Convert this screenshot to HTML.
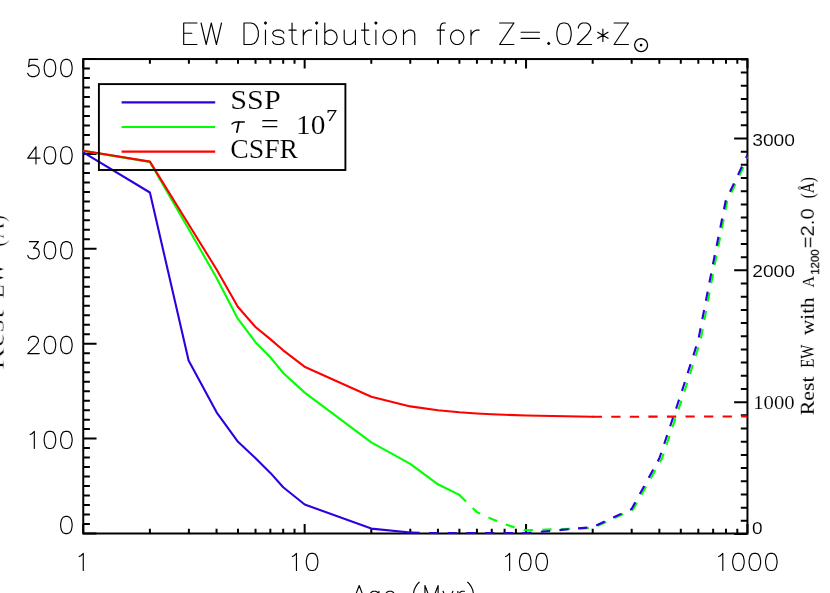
<!DOCTYPE html>
<html><head><meta charset="utf-8"><title>EW Distribution</title>
<style>
html,body{margin:0;padding:0;background:#fff;}
body{width:830px;height:593px;overflow:hidden;font-family:"Liberation Sans",sans-serif;}
svg{display:block;}
</style></head><body>
<svg width="830" height="593" viewBox="0 0 830 593" role="img" aria-label="EW Distribution for Z=.02*Z_sun; x axis Age (Myr) 1 10 100 1000; y axis Rest EW 0 100 200 300 400 500">
<title>EW Distribution for Z=.02*Z⊙</title>
<desc>Rest EW (Å) versus Age (Myr) for SSP, tau = 10^7 and CSFR models; right axis: Rest EW with A1200=2.0 (Å)</desc>
<defs><filter id="gs" x="-5%" y="-5%" width="110%" height="110%" color-interpolation-filters="sRGB"><feColorMatrix type="saturate" values="0"/></filter></defs>
<rect x="0" y="0" width="830" height="593" fill="#fff"/>
<path d="M83.25 533.50 h13.30 M83.25 524.01 h6.64 M83.25 514.52 h6.64 M83.25 505.03 h6.64 M83.25 495.54 h6.64 M83.25 486.06 h6.64 M83.25 476.57 h6.64 M83.25 467.08 h6.64 M83.25 457.59 h6.64 M83.25 448.10 h6.64 M83.25 438.61 h13.30 M83.25 429.12 h6.64 M83.25 419.63 h6.64 M83.25 410.14 h6.64 M83.25 400.65 h6.64 M83.25 391.16 h6.64 M83.25 381.68 h6.64 M83.25 372.19 h6.64 M83.25 362.70 h6.64 M83.25 353.21 h6.64 M83.25 343.72 h13.30 M83.25 334.23 h6.64 M83.25 324.74 h6.64 M83.25 315.25 h6.64 M83.25 305.76 h6.64 M83.25 296.27 h6.64 M83.25 286.79 h6.64 M83.25 277.30 h6.64 M83.25 267.81 h6.64 M83.25 258.32 h6.64 M83.25 248.83 h13.30 M83.25 239.34 h6.64 M83.25 229.85 h6.64 M83.25 220.36 h6.64 M83.25 210.87 h6.64 M83.25 201.38 h6.64 M83.25 191.90 h6.64 M83.25 182.41 h6.64 M83.25 172.92 h6.64 M83.25 163.43 h6.64 M83.25 153.94 h13.30 M83.25 144.45 h6.64 M83.25 134.96 h6.64 M83.25 125.47 h6.64 M83.25 115.98 h6.64 M83.25 106.50 h6.64 M83.25 97.01 h6.64 M83.25 87.52 h6.64 M83.25 78.03 h6.64 M83.25 68.54 h6.64 M83.25 59.05 h13.30 M747.45 534.00 h-13.30 M747.45 520.82 h-6.64 M747.45 507.63 h-6.64 M747.45 494.45 h-6.64 M747.45 481.27 h-6.64 M747.45 468.08 h-6.64 M747.45 454.90 h-6.64 M747.45 441.72 h-6.64 M747.45 428.53 h-6.64 M747.45 415.35 h-6.64 M747.45 402.17 h-13.30 M747.45 388.98 h-6.64 M747.45 375.80 h-6.64 M747.45 362.62 h-6.64 M747.45 349.43 h-6.64 M747.45 336.25 h-6.64 M747.45 323.07 h-6.64 M747.45 309.88 h-6.64 M747.45 296.70 h-6.64 M747.45 283.52 h-6.64 M747.45 270.33 h-13.30 M747.45 257.15 h-6.64 M747.45 243.97 h-6.64 M747.45 230.78 h-6.64 M747.45 217.60 h-6.64 M747.45 204.42 h-6.64 M747.45 191.23 h-6.64 M747.45 178.05 h-6.64 M747.45 164.87 h-6.64 M747.45 151.68 h-6.64 M747.45 138.50 h-13.30 M747.45 125.32 h-6.64 M747.45 112.13 h-6.64 M747.45 98.95 h-6.64 M747.45 85.77 h-6.64 M747.45 72.58 h-6.64 M747.45 59.40 h-6.64 M83.25 533.50 v-9.50 M83.25 59.05 v9.50 M149.90 533.50 v-4.75 M149.90 59.05 v4.75 M188.88 533.50 v-4.75 M188.88 59.05 v4.75 M216.55 533.50 v-4.75 M216.55 59.05 v4.75 M238.00 533.50 v-4.75 M238.00 59.05 v4.75 M255.53 533.50 v-4.75 M255.53 59.05 v4.75 M270.35 533.50 v-4.75 M270.35 59.05 v4.75 M283.19 533.50 v-4.75 M283.19 59.05 v4.75 M294.52 533.50 v-4.75 M294.52 59.05 v4.75 M304.65 533.50 v-9.50 M304.65 59.05 v9.50 M371.30 533.50 v-4.75 M371.30 59.05 v4.75 M410.28 533.50 v-4.75 M410.28 59.05 v4.75 M437.95 533.50 v-4.75 M437.95 59.05 v4.75 M459.40 533.50 v-4.75 M459.40 59.05 v4.75 M476.93 533.50 v-4.75 M476.93 59.05 v4.75 M491.75 533.50 v-4.75 M491.75 59.05 v4.75 M504.59 533.50 v-4.75 M504.59 59.05 v4.75 M515.92 533.50 v-4.75 M515.92 59.05 v4.75 M526.05 533.50 v-9.50 M526.05 59.05 v9.50 M592.70 533.50 v-4.75 M592.70 59.05 v4.75 M631.68 533.50 v-4.75 M631.68 59.05 v4.75 M659.35 533.50 v-4.75 M659.35 59.05 v4.75 M680.80 533.50 v-4.75 M680.80 59.05 v4.75 M698.33 533.50 v-4.75 M698.33 59.05 v4.75 M713.15 533.50 v-4.75 M713.15 59.05 v4.75 M725.99 533.50 v-4.75 M725.99 59.05 v4.75 M737.32 533.50 v-4.75 M737.32 59.05 v4.75 M747.45 533.50 v-9.50 M747.45 59.05 v9.50" fill="none" stroke="#000" stroke-width="2.0"/>
<rect x="83.25" y="59.05" width="664.20" height="474.45" fill="none" stroke="#000" stroke-width="2.0"/>
<clipPath id="pc"><rect x="82.65" y="58.45" width="665.10" height="475.85"/></clipPath>
<g fill="none" stroke-width="2.1" stroke-linejoin="round" stroke-linecap="butt" clip-path="url(#pc)">
<path d="M83.3 150.9 L149.9 161.9 L188.9 229.5 L216.6 278.0 L237.8 318.7 L255.5 342.2 L270.4 357.3 L283.2 373.0 L304.7 392.6 L371.3 442.3 L410.3 463.8 L437.9 484.3 L459.4 494.9 L460.1 495.6" stroke="#00ff00"/>
<path d="M459.4 494.9 L476.9 512.1 L491.7 519.0 L504.6 524.0 L515.9 527.8 L526.0 530.3 L593.1 528.0 L633.0 509.6 L661.8 458.8 L683.4 394.9 L700.6 340.3 L714.9 263.8 L727.2 201.4 L748.8 155.7" stroke="#00ff00" stroke-dasharray="9.33 9.33"/>
<path d="M83.3 152.3 L149.9 192.5 L188.6 360.4 L216.6 412.3 L238.0 441.8 L255.6 458.3 L270.4 472.9 L283.2 487.3 L304.7 504.5 L371.3 528.6 L410.3 532.5 L411.5 532.6" stroke="#2e00e0"/>
<path d="M410.3 532.6 L437.9 533.1 L526.0 533.1 L592.7 527.1 L631.6 509.0 L659.3 458.5 L680.8 394.6 L698.3 340.0 L713.1 263.5 L725.7 200.8 L747.4 155.0" stroke="#2e00e0" stroke-dasharray="9.33 9.33"/>
<path d="M83.3 150.7 L149.9 161.6 L188.9 224.7 L216.6 269.5 L237.8 306.8 L255.5 327.0 L270.3 339.1 L283.2 350.3 L304.5 366.7 L371.3 396.8 L410.3 406.4 L437.9 410.2 L459.4 412.3 L476.9 413.5 L491.7 414.3 L504.6 414.8 L526.0 415.5 L592.7 416.8 L594.0 416.8" stroke="#ff0000"/>
<path d="M592.7 416.8 L747.4 416.4" stroke="#ff0000" stroke-dasharray="9.28 9.28"/>
</g>
<path d="M37.61 59.42 L29.39 59.42 L28.57 66.79 L29.39 65.97 L31.86 65.15 L34.32 65.15 L36.79 65.97 L38.43 67.60 L39.25 70.06 L39.25 71.69 L38.43 74.15 L36.79 75.78 L34.32 76.60 L31.86 76.60 L29.39 75.78 L28.57 74.96 L27.75 73.33 M49.12 59.42 L46.65 60.24 L45.01 62.70 L44.19 66.79 L44.19 69.24 L45.01 73.33 L46.65 75.78 L49.12 76.60 L50.76 76.60 L53.23 75.78 L54.87 73.33 L55.69 69.24 L55.69 66.79 L54.87 62.70 L53.23 60.24 L50.76 59.42 L49.12 59.42 M65.56 59.42 L63.09 60.24 L61.45 62.70 L60.63 66.79 L60.63 69.24 L61.45 73.33 L63.09 75.78 L65.56 76.60 L67.20 76.60 L69.67 75.78 L71.31 73.33 L72.13 69.24 L72.13 66.79 L71.31 62.70 L69.67 60.24 L67.20 59.42 L65.56 59.42 M35.97 146.72 L27.75 158.17 L40.08 158.17 M35.97 146.72 L35.97 163.90 M49.12 146.72 L46.65 147.54 L45.01 150.00 L44.19 154.09 L44.19 156.54 L45.01 160.63 L46.65 163.08 L49.12 163.90 L50.76 163.90 L53.23 163.08 L54.87 160.63 L55.69 156.54 L55.69 154.09 L54.87 150.00 L53.23 147.54 L50.76 146.72 L49.12 146.72 M65.56 146.72 L63.09 147.54 L61.45 150.00 L60.63 154.09 L60.63 156.54 L61.45 160.63 L63.09 163.08 L65.56 163.90 L67.20 163.90 L69.67 163.08 L71.31 160.63 L72.13 156.54 L72.13 154.09 L71.31 150.00 L69.67 147.54 L67.20 146.72 L65.56 146.72 M29.39 241.62 L38.43 241.62 L33.50 248.17 L35.97 248.17 L37.61 248.99 L38.43 249.80 L39.25 252.26 L39.25 253.89 L38.43 256.35 L36.79 257.98 L34.32 258.80 L31.86 258.80 L29.39 257.98 L28.57 257.16 L27.75 255.53 M49.12 241.62 L46.65 242.44 L45.01 244.90 L44.19 248.99 L44.19 251.44 L45.01 255.53 L46.65 257.98 L49.12 258.80 L50.76 258.80 L53.23 257.98 L54.87 255.53 L55.69 251.44 L55.69 248.99 L54.87 244.90 L53.23 242.44 L50.76 241.62 L49.12 241.62 M65.56 241.62 L63.09 242.44 L61.45 244.90 L60.63 248.99 L60.63 251.44 L61.45 255.53 L63.09 257.98 L65.56 258.80 L67.20 258.80 L69.67 257.98 L71.31 255.53 L72.13 251.44 L72.13 248.99 L71.31 244.90 L69.67 242.44 L67.20 241.62 L65.56 241.62 M28.57 340.51 L28.57 339.70 L29.39 338.06 L30.21 337.24 L31.86 336.42 L35.14 336.42 L36.79 337.24 L37.61 338.06 L38.43 339.70 L38.43 341.33 L37.61 342.97 L35.97 345.42 L27.75 353.60 L39.25 353.60 M49.12 336.42 L46.65 337.24 L45.01 339.70 L44.19 343.79 L44.19 346.24 L45.01 350.33 L46.65 352.78 L49.12 353.60 L50.76 353.60 L53.23 352.78 L54.87 350.33 L55.69 346.24 L55.69 343.79 L54.87 339.70 L53.23 337.24 L50.76 336.42 L49.12 336.42 M65.56 336.42 L63.09 337.24 L61.45 339.70 L60.63 343.79 L60.63 346.24 L61.45 350.33 L63.09 352.78 L65.56 353.60 L67.20 353.60 L69.67 352.78 L71.31 350.33 L72.13 346.24 L72.13 343.79 L71.31 339.70 L69.67 337.24 L67.20 336.42 L65.56 336.42 M30.21 434.60 L31.86 433.78 L34.32 431.32 L34.32 448.50 M49.12 431.32 L46.65 432.14 L45.01 434.60 L44.19 438.69 L44.19 441.14 L45.01 445.23 L46.65 447.68 L49.12 448.50 L50.76 448.50 L53.23 447.68 L54.87 445.23 L55.69 441.14 L55.69 438.69 L54.87 434.60 L53.23 432.14 L50.76 431.32 L49.12 431.32 M65.56 431.32 L63.09 432.14 L61.45 434.60 L60.63 438.69 L60.63 441.14 L61.45 445.23 L63.09 447.68 L65.56 448.50 L67.20 448.50 L69.67 447.68 L71.31 445.23 L72.13 441.14 L72.13 438.69 L71.31 434.60 L69.67 432.14 L67.20 431.32 L65.56 431.32 M65.56 516.42 L63.09 517.24 L61.45 519.70 L60.63 523.79 L60.63 526.24 L61.45 530.33 L63.09 532.78 L65.56 533.60 L67.20 533.60 L69.67 532.78 L71.31 530.33 L72.13 526.24 L72.13 523.79 L71.31 519.70 L69.67 517.24 L67.20 516.42 L65.56 516.42 M79.16 556.60 L80.81 555.78 L83.27 553.32 L83.27 570.50 M292.34 556.60 L293.99 555.78 L296.45 553.32 L296.45 570.50 M311.25 553.32 L308.78 554.14 L307.14 556.60 L306.32 560.69 L306.32 563.14 L307.14 567.23 L308.78 569.68 L311.25 570.50 L312.89 570.50 L315.36 569.68 L317.00 567.23 L317.82 563.14 L317.82 560.69 L317.00 556.60 L315.36 554.14 L312.89 553.32 L311.25 553.32 M505.52 556.60 L507.17 555.78 L509.63 553.32 L509.63 570.50 M524.43 553.32 L521.96 554.14 L520.32 556.60 L519.50 560.69 L519.50 563.14 L520.32 567.23 L521.96 569.68 L524.43 570.50 L526.07 570.50 L528.54 569.68 L530.18 567.23 L531.00 563.14 L531.00 560.69 L530.18 556.60 L528.54 554.14 L526.07 553.32 L524.43 553.32 M540.87 553.32 L538.40 554.14 L536.76 556.60 L535.94 560.69 L535.94 563.14 L536.76 567.23 L538.40 569.68 L540.87 570.50 L542.51 570.50 L544.98 569.68 L546.62 567.23 L547.44 563.14 L547.44 560.69 L546.62 556.60 L544.98 554.14 L542.51 553.32 L540.87 553.32 M718.70 556.60 L720.35 555.78 L722.81 553.32 L722.81 570.50 M737.61 553.32 L735.14 554.14 L733.50 556.60 L732.68 560.69 L732.68 563.14 L733.50 567.23 L735.14 569.68 L737.61 570.50 L739.25 570.50 L741.72 569.68 L743.36 567.23 L744.18 563.14 L744.18 560.69 L743.36 556.60 L741.72 554.14 L739.25 553.32 L737.61 553.32 M754.05 553.32 L751.58 554.14 L749.94 556.60 L749.12 560.69 L749.12 563.14 L749.94 567.23 L751.58 569.68 L754.05 570.50 L755.69 570.50 L758.16 569.68 L759.80 567.23 L760.62 563.14 L760.62 560.69 L759.80 556.60 L758.16 554.14 L755.69 553.32 L754.05 553.32 M770.49 553.32 L768.02 554.14 L766.38 556.60 L765.56 560.69 L765.56 563.14 L766.38 567.23 L768.02 569.68 L770.49 570.50 L772.13 570.50 L774.60 569.68 L776.24 567.23 L777.06 563.14 L777.06 560.69 L776.24 556.60 L774.60 554.14 L772.13 553.32 L770.49 553.32 M359.20 585.54 L352.62 602.80 M359.20 585.54 L365.77 602.80 M355.09 597.05 L363.31 597.05 M378.93 591.29 L378.93 604.44 L378.10 606.91 L377.28 607.73 L375.64 608.55 L373.17 608.55 L371.53 607.73 M378.93 593.76 L377.28 592.11 L375.64 591.29 L373.17 591.29 L371.53 592.11 L369.88 593.76 L369.06 596.22 L369.06 597.87 L369.88 600.33 L371.53 601.98 L373.17 602.80 L375.64 602.80 L377.28 601.98 L378.93 600.33 M384.68 596.22 L394.54 596.22 L394.54 594.58 L393.72 592.94 L392.90 592.11 L391.26 591.29 L388.79 591.29 L387.15 592.11 L385.50 593.76 L384.68 596.22 L384.68 597.87 L385.50 600.33 L387.15 601.98 L388.79 602.80 L391.26 602.80 L392.90 601.98 L394.54 600.33 M419.20 582.25 L417.56 583.89 L415.92 586.36 L414.27 589.65 L413.45 593.76 L413.45 597.05 L414.27 601.16 L415.92 604.44 L417.56 606.91 L419.20 608.55 M424.96 585.54 L424.96 602.80 M424.96 585.54 L431.53 602.80 M438.11 585.54 L431.53 602.80 M438.11 585.54 L438.11 602.80 M443.04 591.29 L447.97 602.80 M452.91 591.29 L447.97 602.80 L446.33 606.09 L444.69 607.73 L443.04 608.55 L442.22 608.55 M457.84 591.29 L457.84 602.80 M457.84 596.22 L458.66 593.76 L460.30 592.11 L461.95 591.29 L464.41 591.29 M467.70 582.25 L469.35 583.89 L470.99 586.36 L472.63 589.65 L473.46 593.76 L473.46 597.05 L472.63 601.16 L470.99 604.44 L469.35 606.91 L467.70 608.55 M183.69 23.00 L183.69 44.50 M183.69 23.00 L196.98 23.00 M183.69 33.24 L191.87 33.24 M183.69 44.50 L196.98 44.50 M201.07 23.00 L206.18 44.50 M211.29 23.00 L206.18 44.50 M211.29 23.00 L216.41 44.50 M221.52 23.00 L216.41 44.50 M244.01 23.00 L244.01 44.50 M244.01 23.00 L251.17 23.00 L254.24 24.02 L256.28 26.07 L257.30 28.12 L258.32 31.19 L258.32 36.31 L257.30 39.38 L256.28 41.43 L254.24 43.48 L251.17 44.50 L244.01 44.50 M264.46 23.00 L265.48 24.02 L266.50 23.00 L265.48 21.97 L264.46 23.00 M265.48 30.16 L265.48 44.50 M283.88 33.24 L282.86 31.19 L279.80 30.16 L276.73 30.16 L273.66 31.19 L272.64 33.24 L273.66 35.28 L275.71 36.31 L280.82 37.33 L282.86 38.36 L283.88 40.40 L283.88 41.43 L282.86 43.48 L279.80 44.50 L276.73 44.50 L273.66 43.48 L272.64 41.43 M292.06 23.00 L292.06 40.40 L293.09 43.48 L295.13 44.50 L297.18 44.50 M289.00 30.16 L296.15 30.16 M303.31 30.16 L303.31 44.50 M303.31 36.31 L304.33 33.24 L306.38 31.19 L308.42 30.16 L311.49 30.16 M315.58 23.00 L316.60 24.02 L317.62 23.00 L316.60 21.97 L315.58 23.00 M316.60 30.16 L316.60 44.50 M324.78 23.00 L324.78 44.50 M324.78 33.24 L326.83 31.19 L328.87 30.16 L331.94 30.16 L333.98 31.19 L336.03 33.24 L337.05 36.31 L337.05 38.36 L336.03 41.43 L333.98 43.48 L331.94 44.50 L328.87 44.50 L326.83 43.48 L324.78 41.43 M344.21 30.16 L344.21 40.40 L345.23 43.48 L347.27 44.50 L350.34 44.50 L352.39 43.48 L355.45 40.40 M355.45 30.16 L355.45 44.50 M364.65 23.00 L364.65 40.40 L365.68 43.48 L367.72 44.50 L369.77 44.50 M361.59 30.16 L368.74 30.16 M374.88 23.00 L375.90 24.02 L376.92 23.00 L375.90 21.97 L374.88 23.00 M375.90 30.16 L375.90 44.50 M388.17 30.16 L386.12 31.19 L384.08 33.24 L383.06 36.31 L383.06 38.36 L384.08 41.43 L386.12 43.48 L388.17 44.50 L391.24 44.50 L393.28 43.48 L395.33 41.43 L396.35 38.36 L396.35 36.31 L395.33 33.24 L393.28 31.19 L391.24 30.16 L388.17 30.16 M403.51 30.16 L403.51 44.50 M403.51 34.26 L406.57 31.19 L408.62 30.16 L411.68 30.16 L413.73 31.19 L414.75 34.26 L414.75 44.50 M445.42 23.00 L443.38 23.00 L441.33 24.02 L440.31 27.09 L440.31 44.50 M437.24 30.16 L444.40 30.16 M455.65 30.16 L453.60 31.19 L451.56 33.24 L450.54 36.31 L450.54 38.36 L451.56 41.43 L453.60 43.48 L455.65 44.50 L458.72 44.50 L460.76 43.48 L462.80 41.43 L463.83 38.36 L463.83 36.31 L462.80 33.24 L460.76 31.19 L458.72 30.16 L455.65 30.16 M470.98 30.16 L470.98 44.50 M470.98 36.31 L472.01 33.24 L474.05 31.19 L476.10 30.16 L479.16 30.16 M513.92 23.00 L499.61 44.50 M499.61 23.00 L513.92 23.00 M499.61 44.50 L513.92 44.50 M521.08 32.21 L539.48 32.21 M521.08 38.36 L539.48 38.36 M548.69 42.45 L547.66 43.48 L548.69 44.50 L549.71 43.48 L548.69 42.45 M563.00 23.00 L559.93 24.02 L557.89 27.09 L556.87 32.21 L556.87 35.28 L557.89 40.40 L559.93 43.48 L563.00 44.50 L565.04 44.50 L568.11 43.48 L570.16 40.40 L571.18 35.28 L571.18 32.21 L570.16 27.09 L568.11 24.02 L565.04 23.00 L563.00 23.00 M578.34 28.12 L578.34 27.09 L579.36 25.04 L580.38 24.02 L582.43 23.00 L586.52 23.00 L588.56 24.02 L589.58 25.04 L590.60 27.09 L590.60 29.14 L589.58 31.19 L587.54 34.26 L577.31 44.50 L591.63 44.50 M602.87 29.14 L602.87 41.43 M597.76 32.21 L607.99 38.36 M607.99 32.21 L597.76 38.36 M628.43 23.00 L614.12 44.50 M614.12 23.00 L628.43 23.00 M614.12 44.50 L628.43 44.50" fill="none" stroke="#000" stroke-width="1.15" stroke-linejoin="round" stroke-linecap="round"/>
<circle cx="641.1" cy="45.1" r="6.5" fill="none" stroke="#000" stroke-width="1.25"/>
<circle cx="641.1" cy="45.1" r="1.35" fill="#000"/>
<rect x="98.9" y="84.1" width="246.5" height="85.9" fill="none" stroke="#000" stroke-width="1.9"/>
<path d="M121.6 102.4 H215.2" stroke="#2e00e0" stroke-width="2.2" fill="none"/>
<path d="M121.6 127.0 H215.2" stroke="#00ff00" stroke-width="2.2" fill="none"/>
<path d="M121.6 151.7 H215.2" stroke="#ff0000" stroke-width="2.2" fill="none"/>
<g font-family="'Liberation Serif', serif" font-size="27px" fill="#000" stroke="#fff" stroke-width="0.15" filter="url(#gs)">
<text x="230.3" y="108.6" textLength="50.4" lengthAdjust="spacingAndGlyphs">SSP</text>
<path d="M231.6 124.3 Q233.2 121.9 236.6 121.9 L244.8 121.9" fill="none" stroke="#000" stroke-width="1.5"/>
<path d="M238.9 122 L236.9 132.2" fill="none" stroke="#000" stroke-width="1.75" stroke-linecap="round"/>
<text x="260.5" y="133.4" textLength="18.5" lengthAdjust="spacingAndGlyphs">=</text>
<text x="296.0" y="133.5" textLength="29.4" lengthAdjust="spacingAndGlyphs">10</text>
<text x="326.3" y="120.6" font-size="16.2px" stroke="#000" stroke-width="0.15" textLength="10.8" lengthAdjust="spacingAndGlyphs">7</text>
<text x="230.3" y="158.2" textLength="67.8" lengthAdjust="spacingAndGlyphs">CSFR</text>
</g>
<g font-family="'Liberation Sans', sans-serif" font-size="16.6px" fill="#000" stroke="#fff" stroke-width="0.1" filter="url(#gs)">
<text x="752.2" y="145.6" textLength="42.8" lengthAdjust="spacingAndGlyphs">3000</text>
<text x="752.2" y="277.2" textLength="42.8" lengthAdjust="spacingAndGlyphs">2000</text>
</g>
<g font-family="'Liberation Serif', serif" font-size="18.9px" fill="#000" stroke="#fff" stroke-width="0.1" filter="url(#gs)">
<text x="753.2" y="408.7" textLength="41.4" lengthAdjust="spacingAndGlyphs">1000</text>
<text x="752.0" y="534.0" font-family="'Liberation Sans', sans-serif" font-size="17.4px" textLength="10.6" lengthAdjust="spacingAndGlyphs">0</text>
</g>
<g transform="translate(813.8 0) rotate(-90)" fill="#000" stroke="none" filter="url(#gs)">
<text x="-415.2" y="0.0" font-family="'Liberation Serif', serif" font-size="18.2px" textLength="38.8" lengthAdjust="spacingAndGlyphs">Rest</text>
<text x="-367.8" y="0.0" font-family="'Liberation Serif', serif" font-size="18.2px" textLength="23.2" lengthAdjust="spacingAndGlyphs">EW</text>
<text x="-335.0" y="0.0" font-family="'Liberation Serif', serif" font-size="18.4px" textLength="37.6" lengthAdjust="spacingAndGlyphs">with</text>
<text x="-287.4" y="0.0" font-family="'Liberation Serif', serif" font-size="17.6px" textLength="11.4" lengthAdjust="spacingAndGlyphs">A</text>
<text x="-274.8" y="5.2" font-family="'Liberation Sans', sans-serif" font-size="11.4px" textLength="25.5" lengthAdjust="spacingAndGlyphs" stroke="#000" stroke-width="0.25">1200</text>
<text x="-248.3" y="0.4" font-family="'Liberation Sans', sans-serif" font-size="18.0px" textLength="40.0" lengthAdjust="spacingAndGlyphs" stroke="#fff" stroke-width="0.1">=2.0</text>
<text x="-198.2" y="0.0" font-family="'Liberation Serif', serif" font-size="18.2px" textLength="21.0" lengthAdjust="spacingAndGlyphs">(Å)</text>
</g>
<g transform="translate(3.8 0) rotate(-90)" fill="#000" stroke="#fff" stroke-width="0.6" filter="url(#gs)">
<text x="-370.4" y="0.0" font-family="'Liberation Serif', serif" font-size="28.0px" textLength="60.8" lengthAdjust="spacingAndGlyphs">Rest</text>
<text x="-298.8" y="0.0" font-family="'Liberation Serif', serif" font-size="28.0px" textLength="36.4" lengthAdjust="spacingAndGlyphs">EW</text>
<text x="-247.2" y="0.0" font-family="'Liberation Serif', serif" font-size="28.0px" textLength="32.6" lengthAdjust="spacingAndGlyphs">(Å)</text>
</g>
</svg>
</body></html>
